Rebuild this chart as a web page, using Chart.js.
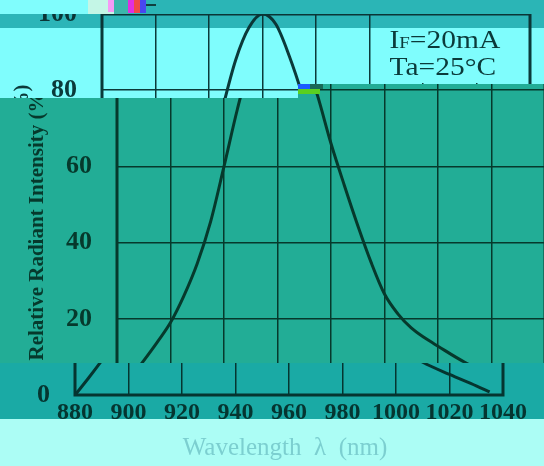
<!DOCTYPE html>
<html>
<head>
<meta charset="utf-8">
<script src="https://cdn.jsdelivr.net/npm/chart.js@4/dist/chart.umd.min.js"></script>
<style>
  body { margin: 0; background: #7ffdfd; }
  #wrap { position: relative; width: 544px; height: 466px; overflow: hidden; }
  .band { position: absolute; left: 0; top: 0; width: 544px; height: 466px; overflow: hidden; }
  .band canvas { position: absolute; top: 0; }
  .bit { position: absolute; }
</style>
</head>
<body>
<div id="wrap"></div>
<script>
// spectrum
const wavelengths = [880, 885, 890, 895, 900, 905, 910, 915, 920, 925, 930, 935, 940, 945,
  950, 955, 960, 965, 970, 975, 980, 985, 990, 995, 1000, 1010, 1020, 1030, 1035];
const intensity = [0, 4.4, 9, 13.8, 19, 26, 34.5, 45.5, 60, 75, 88, 96.5, 100, 97.3,
  89, 78.5, 66, 55, 44.5, 34.8, 26.5, 21.3, 17.6, 15, 12.8, 8.6, 5.4, 2.4, 0.8];
const xTicks = [880, 900, 920, 940, 960, 980, 1000, 1020, 1040];
const yTicks = [0, 20, 40, 60, 80, 100];
const xTitle = 'Wavelength  \u03bb  (nm)';
const yTitle = 'Relative Radiant Intensity (%)';
const conditions = ['IF=20mA', 'Ta=25\u00b0C'];

const serif = "'Liberation Serif', 'Times New Roman', serif";
const wrap = document.getElementById('wrap');

// the reference is a broken scan: horizontal strips shifted sideways
const bands = [
  { clip: 'polygon(0 0,544px 0,544px 14px,0 14px)', bg: 'linear-gradient(to right,#80fdfd 0 88px,#c4f6e6 88px 114px,#3bb6ac 114px 128px,#2bb5b6 128px)', dx: null },
  { clip: 'polygon(0 14px,544px 14px,544px 28px,0 28px)', bg: '#2cb5b8', dx: 2, ink: '#0a3536' },
  { clip: 'polygon(0 28px,544px 28px,544px 84px,298px 84px,298px 98px,0 98px)', bg: '#7ffdfd', dx: 2, ink: '#0b3a3a' },
  { clip: 'polygon(0 98px,298px 98px,298px 84px,544px 84px,544px 363px,0 363px)', bg: '#22ad96', dx: 17, ink: '#06392c' },
  { clip: 'polygon(0 363px,544px 363px,544px 419px,0 419px)', bg: '#1aaaa5', dx: -25, ink: '#053530' },
  { clip: 'polygon(0 419px,544px 419px,544px 466px,0 466px)', bg: '#acfdf5', dx: -29, ink: '#7ccfd0' }
];

const bits = [
  [108, 0, 6, 12, '#f59af5'], [128, 0, 6, 13, '#e030e0'], [134, 0, 6, 13, '#f04848'],
  [140, 0, 6, 13, '#4848f0'], [146, 4, 10, 2, '#104040'],
  [298, 84, 12, 5, '#1a5cff'], [310, 84, 13, 5, '#1a6a58'], [298, 89, 22, 5, '#5ad020']
];

const framePlugin = {
  id: 'frame',
  beforeDatasetsDraw(chart, args, opts) {
    const { ctx, chartArea: a, scales: { x, y } } = chart;
    // the legend box hides the grid behind it
    const bx = x.getPixelForValue(981.5), by = y.getPixelForValue(82);
    ctx.clearRect(bx, a.top, a.right - bx, by - a.top);
    ctx.save();
    ctx.strokeStyle = opts.ink;
    ctx.lineWidth = 3;
    ctx.strokeRect(a.left, a.top, a.right - a.left, a.bottom - a.top);
    ctx.restore();
  },
  afterDraw(chart, args, opts) {
    const { ctx, chartArea: a, scales: { x } } = chart;
    ctx.save();
    ctx.fillStyle = opts.ink;
    // y title
    ctx.save();
    ctx.translate(20.6, (a.top + a.bottom) / 2 + 18);
    ctx.rotate(-Math.PI / 2);
    ctx.font = 'bold 21px ' + serif;
    ctx.textAlign = 'center';
    ctx.textBaseline = 'middle';
    ctx.fillText(yTitle, 0, 0);
    ctx.restore();
    // test conditions
    ctx.translate(x.getPixelForValue(981.5) + 16, a.top + 34);
    ctx.scale(1.18, 1);
    ctx.font = '25px ' + serif;
    ctx.fillText(conditions[0][0], 0, 0);
    let w = ctx.measureText(conditions[0][0]).width;
    ctx.font = '16px ' + serif;
    ctx.fillText(conditions[0][1], w, 0);
    w += ctx.measureText(conditions[0][1]).width;
    ctx.font = '25px ' + serif;
    ctx.fillText(conditions[0].slice(2), w, 0);
    ctx.fillText(conditions[1], 0, 27);
    ctx.restore();
  }
};

function config(b) {
  return {
    type: 'line',
    data: {
      datasets: [{
        data: wavelengths.map((w, i) => ({ x: w, y: intensity[i] })),
        borderColor: b.ink,
        borderWidth: 3,
        pointRadius: 0,
        cubicInterpolationMode: 'monotone',
        fill: false
      }]
    },
    options: {
      responsive: false,
      animation: false,
      devicePixelRatio: 1,
      layout: { padding: { top: 14, right: 32, bottom: 0, left: 0 } },
      plugins: { legend: { display: false }, tooltip: { enabled: false }, frame: { ink: b.ink } },
      scales: {
        x: {
          type: 'linear', min: 880, max: 1040,
          afterBuildTicks: s => { s.ticks = xTicks.map(v => ({ value: v })); },
          afterFit: s => { s.height = 71; s.paddingLeft = 0; s.paddingRight = 0; },
          grid: { color: b.ink, lineWidth: 1.5, drawTicks: false },
          border: { display: false },
          ticks: {
            color: b.ink, padding: 3, autoSkip: false, maxRotation: 0, minRotation: 0,
            callback: v => String(v),
            font: { family: serif, size: 24, weight: 'bold' }
          },
          title: { display: true, text: xTitle, color: '#7ccfd0', padding: { top: 0, bottom: 3 }, font: { family: serif, size: 25 } }
        },
        y: {
          min: 0, max: 100,
          afterBuildTicks: s => { s.ticks = yTicks.map(v => ({ value: v })); },
          afterFit: s => { s.width = 100; s.paddingTop = 0; s.paddingBottom = 0; },
          grid: { color: b.ink, lineWidth: 1.5, drawTicks: false },
          border: { display: false },
          ticks: {
            color: b.ink, padding: 25, autoSkip: false, callback: v => String(v),
            font: { family: serif, size: 26, weight: 'bold' }
          }
        }
      }
    },
    plugins: [framePlugin]
  };
}

bands.forEach(b => {
  const div = document.createElement('div');
  div.className = 'band';
  div.style.clipPath = b.clip;
  div.style.background = b.bg;
  wrap.appendChild(div);
  if (b.dx === null) return;
  const cv = document.createElement('canvas');
  cv.width = 560;
  cv.height = 466;
  cv.style.left = b.dx + 'px';
  div.appendChild(cv);
  new Chart(cv, config(b));
});

bits.forEach(([l, t, w, h, c]) => {
  const d = document.createElement('div');
  d.className = 'bit';
  d.style.cssText = `left:${l}px;top:${t}px;width:${w}px;height:${h}px;background:${c}`;
  wrap.appendChild(d);
});
</script>
</body>
</html>
